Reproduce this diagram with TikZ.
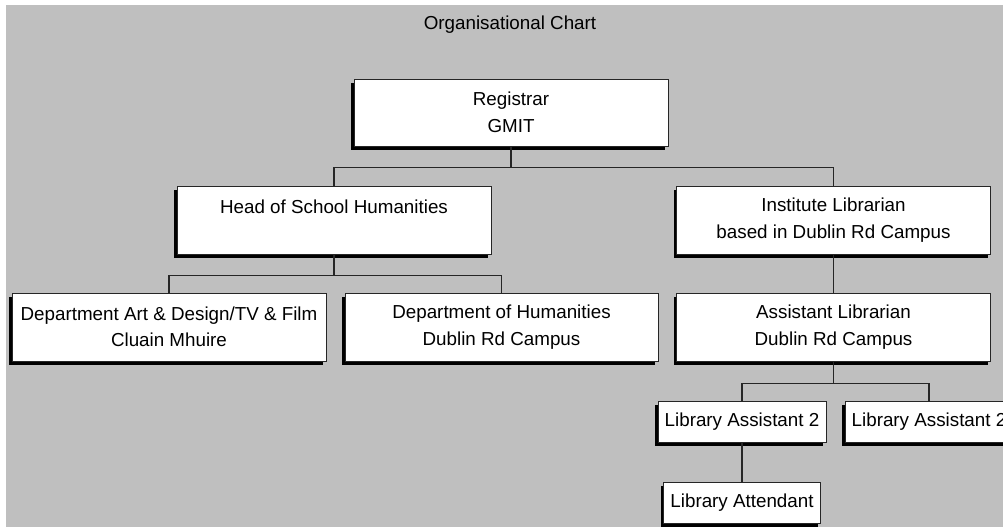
\documentclass[tikz,border=0pt]{standalone}
\usepackage{fontspec}
\setmainfont{Liberation Sans}
\usetikzlibrary{shadows}
\tikzset{
  post/.style={draw=black!85, line width=1pt, fill=white, align=center,
    inner sep=0pt, minimum height=#1,
    drop shadow={shadow xshift=-3pt, shadow yshift=-4pt, fill=black, opacity=1}},
  post/.default=67pt,
  link/.style={draw=black!85, line width=1.2pt}
}
\begin{document}
\begin{tikzpicture}[x=1pt, y=-1pt, font=\fontsize{18.8}{26.5}\selectfont]
  \clip (0,0) rectangle (1003,527);
  \fill[white] (0,0) rectangle (1003,527);
  \fill[black!25] (6,5) rectangle (1003,527);
  \node (title) at (510,25) {Organisational Chart};
  % top levels
  \node[post, minimum width=314pt] (reg) at (511,112.5) {Registrar\\GMIT};
  \node[post=68pt, minimum width=314pt] (head) at (334,220) {Head of School Humanities\\~};
  \node[post=68pt, minimum width=314pt] (inst) at (833.5,220) {Institute Librarian\\based in Dublin Rd Campus};
  % departments
  \node[post=68pt, minimum width=314pt] (art) at (169,327) {Department Art \& Design/TV \& Film\\Cluain Mhuire};
  \node[post=68pt, minimum width=313pt] (hum) at (501.5,327) {Department of Humanities\\Dublin Rd Campus};
  \node[post=68pt, minimum width=314pt] (asst) at (833.5,327) {Assistant Librarian\\Dublin Rd Campus};
  % library staff
  \node[post=41pt, minimum width=168pt] (la1) at (742,421.5) {Library Assistant 2};
  \node[post=41pt, minimum width=168pt] (la2) at (929,421.5) {Library Assistant 2};
  \node[post=41pt, minimum width=157pt] (att) at (742,502.5) {Library Attendant};
  % connectors
  \draw[link] (reg.south) -- ++(0,21) -| (head.north);
  \draw[link] (reg.south) -- ++(0,21) -| (inst.north);
  \draw[link] (head.south) -- ++(0,21) -| (art.north);
  \draw[link] (head.south) -- ++(0,21) -| (hum.north);
  \draw[link] (inst.south) -- (asst.north);
  \draw[link] (asst.south) -- ++(0,22) -| (la1.north);
  \draw[link] (asst.south) -- ++(0,22) -| (la2.north);
  \draw[link] (la1.south) -- (att.north);
\end{tikzpicture}
\end{document}
